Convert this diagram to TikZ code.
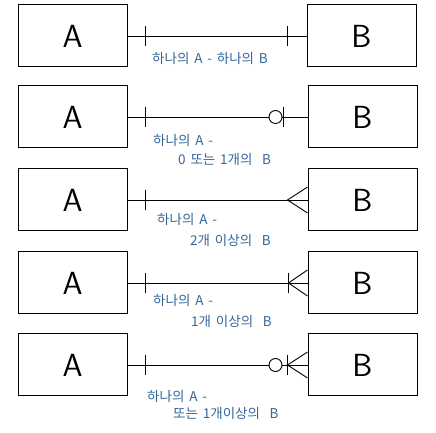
\documentclass[tikz,border=0pt]{standalone}
\usepackage{fontspec}
\newfontfamily\kofont[WordSpace=1.6]{Noto Sans CJK KR}
\usetikzlibrary{positioning}
\definecolor{labelblue}{HTML}{35679A}

\tikzset{
entity/.style={rectangle, draw=black, line width=1pt, minimum width=109pt, minimum height=62pt, font=\sffamily\fontsize{32}{32}\selectfont},
rel/.style={line width=0.9pt},
note/.style={anchor=west, inner sep=0pt, text=labelblue, font=\kofont\fontsize{13.5}{14}\selectfont}
}

\begin{document}
\begin{tikzpicture}
\fill [white] (0pt,0pt) rectangle (436pt,433pt);

\node [entity] (a1) at (72.5pt,397pt) {A};
\node [entity, right=179pt of a1] (b1) {B};
\node [entity] (a2) at (72.5pt,316pt) {A};
\node [entity, right=180pt of a2] (b2) {B};
\node [entity] (a3) at (72.5pt,233pt) {A};
\node [entity, right=180pt of a3] (b3) {B};
\node [entity] (a4) at (72.5pt,150pt) {A};
\node [entity, right=180pt of a4] (b4) {B};
\node [entity] (a5) at (72.5pt,68pt) {A};
\node [entity, right=180pt of a5] (b5) {B};

% ticks near A
\coordinate [right=18pt of a1.east] (ta1);
\coordinate [right=18pt of a2.east] (ta2);
\coordinate [right=18pt of a3.east] (ta3);
\coordinate [right=18pt of a4.east] (ta4);
\coordinate [right=18pt of a5.east] (ta5);
% marks near B
\coordinate [left=19pt of b1.west] (tb1);
\coordinate [left=24pt of b2.west] (tb2);
\coordinate [left=32pt of b2.west] (ob2);
\coordinate [left=20pt of b3.west] (cb3);
\coordinate [left=19pt of b4.west] (cb4);
\coordinate [left=20pt of b5.west] (cb5);
\coordinate [left=32pt of b5.west] (ob5);

\draw [rel] (a1.east) -- (b1.west);
\draw [rel] (a2.east) -- (b2.west);
\draw [rel] (a3.east) -- (b3.west);
\draw [rel] (a4.east) -- (b4.west);
\draw [rel] (a5.east) -- (b5.west);

\foreach \t in {ta1,ta2,ta3,ta4,ta5,tb1,tb2,cb4,cb5}
  \draw [rel] ([yshift=10pt]\t) -- ([yshift=-10pt]\t);
\draw [rel, fill=white] (ob2) circle (6.5pt);
\draw [rel, fill=white] (ob5) circle (6.5pt);
\draw [rel] ([yshift=13pt]b3.west) -- (cb3) -- ([yshift=-13pt]b3.west);
\draw [rel] ([yshift=13pt]b4.west) -- (cb4) -- ([yshift=-13pt]b4.west);
\draw [rel] ([yshift=13pt]b5.west) -- (cb5) -- ([yshift=-13pt]b5.west);

\node [note] (n1) at (152pt,375pt) {하나의 A - 하나의 B};
\node [note] (n2) at (153pt,293pt) {하나의 A -};
\node [note] (n2b) at (178pt,274pt) {0 또는 1개의 \ B};
\node [note] (n3) at (157pt,214pt) {하나의 A -};
\node [note] (n3b) at (190pt,193pt) {2개 이상의 \ B};
\node [note] (n4) at (153pt,133pt) {하나의 A -};
\node [note] (n4b) at (191pt,112pt) {1개 이상의 \ B};
\node [note] (n5) at (147pt,37pt) {하나의 A -};
\node [note] (n5b) at (173pt,20pt) {또는 1개이상의 \ B};
\end{tikzpicture}
\end{document}
